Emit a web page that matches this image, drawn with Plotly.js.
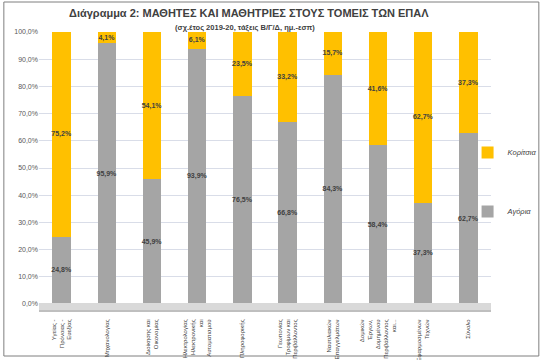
<!DOCTYPE html>
<html>
<head>
<meta charset="utf-8">
<script src="https://cdn.plot.ly/plotly-3.0.1.min.js"></script>
<style>
html,body{margin:0;padding:0;background:#fff;overflow:hidden;}
#chart{width:554px;height:360px;}
</style>
</head>
<body>
<div id="chart"></div>
<script>
const categories = [
  "Υγείας -<br>Πρόνοιας -<br>Ευεξίας",
  "Μηχανολογίας",
  "Διοίκησης και<br>Οικονομίας",
  "Ηλεκτρολογίας<br>Ηλεκτρονικής<br>και<br>Αυτοματισμού",
  "Πληροφορικής",
  "Γεωπονίας<br>Τροφίμων και<br>Περιβάλλοντος",
  "Ναυτιλιακών<br>Επαγγελμάτων",
  "Δομικών<br>Έργων,<br>Δομημένου<br>Περιβάλλοντος<br>και...",
  "Εφαρμοσμένων<br>Τεχνών",
  "Σύνολο"
];
const boys  = [24.8, 95.9, 45.9, 93.9, 76.5, 66.8, 84.3, 58.4, 37.3, 62.7];
const girls = [75.2, 4.1, 54.1, 6.1, 23.5, 33.2, 15.7, 41.6, 62.7, 37.3];
const yTicks = [0,10,20,30,40,50,60,70,80,90,100];
const yTickText = yTicks.map(v => v.toFixed(1).replace(".", ",") + "%");

const FONT = "Liberation Sans, Arial, sans-serif";

const traces = [
  {
    type: "bar", name: "Αγόρια", x: categories, y: boys,
    marker: {color: "#A5A5A5"},
    texttemplate: "%{y:.1f}%", textposition: "inside", insidetextanchor: "middle",
    constraintext: "none", textangle: 0,
    textfont: {family: FONT, size: 7, color: "#404040", weight: "bold"},
    legendgroup: "b", legendrank: 2, hoverinfo: "skip"
  },
  {
    type: "bar", name: "Κορίτσια", x: categories, y: girls,
    marker: {color: "#FFC000"},
    texttemplate: "%{y:.1f}%", textposition: "inside", insidetextanchor: "middle",
    constraintext: "none", textangle: 0,
    textfont: {family: FONT, size: 7, color: "#404040", weight: "bold"},
    legendgroup: "g", legendrank: 1, hoverinfo: "skip"
  }
];

const L = 39, R = 52, T = 32, B = 56;
const pw = 554 - L - R, ph = 360 - T - B;
function px2x(p){ return (p - L) / pw; }
function py2y(p){ return (360 - B - p) / ph; }

const layout = {
  width: 554, height: 360,
  margin: {l: L, r: R, t: T, b: B, pad: 0},
  barmode: "stack",
  bargap: 0.59,
  separators: ",.",
  paper_bgcolor: "#ffffff",
  plot_bgcolor: "#ffffff",
  font: {family: FONT, color: "#595959"},
  annotations: [
    {text: "<b>Διάγραμμα 2: ΜΑΘΗΤΕΣ ΚΑΙ ΜΑΘΗΤΡΙΕΣ ΣΤΟΥΣ ΤΟΜΕΙΣ ΤΩΝ ΕΠΑΛ</b>",
     xref: "paper", yref: "paper", x: px2x(254), y: py2y(13),
     xanchor: "center", yanchor: "middle", showarrow: false,
     font: {family: FONT, size: 11, color: "#404040"}},
    {text: "<b>(σχ.έτος 2019-20, τάξεις Β/Γ/Δ, ημ.-εσπ)</b>",
     xref: "paper", yref: "paper", x: px2x(250), y: py2y(27),
     xanchor: "center", yanchor: "middle", showarrow: false,
     font: {family: FONT, size: 7.5, color: "#404040"}}
  ],
  xaxis: {
    type: "category",
    tickangle: -90,
    ticks: "outside", ticklen: 12, tickcolor: "rgba(0,0,0,0)",
    tickfont: {family: FONT, size: 6, color: "#404040"},
    showline: false, showgrid: false, fixedrange: true
  },
  yaxis: {
    range: [0, 100],
    tickvals: yTicks,
    ticktext: yTickText,
    tickfont: {family: FONT, size: 7, color: "#595959"},
    gridcolor: "#D9DDE8", gridwidth: 1,
    zeroline: false, showline: false, ticks: "", fixedrange: true
  },
  legend: {
    x: px2x(478), xanchor: "left",
    y: py2y(138), yanchor: "top",
    traceorder: "grouped",
    tracegroupgap: 40,
    font: {family: FONT, size: 7.5, color: "#404040", style: "italic"},
    bgcolor: "rgba(0,0,0,0)"
  },
  shapes: [
    {type: "rect", xref: "paper", yref: "paper",
     x0: 0, x1: 1, y0: py2y(311), y1: py2y(303),
     fillcolor: "#D9D9D9", line: {width: 0}, layer: "above"},
    {type: "rect", xref: "paper", yref: "paper",
     x0: 0, x1: 1, y0: py2y(312), y1: py2y(310),
     fillcolor: "#BFBFBF", line: {width: 0}, layer: "above"},
    {type: "rect", xref: "paper", yref: "paper",
     x0: px2x(3), x1: px2x(551), y0: py2y(356), y1: py2y(2),
     line: {color: "#7F7F7F", width: 1}, fillcolor: "rgba(0,0,0,0)", layer: "below"}
  ],
  showlegend: true
};

Plotly.newPlot("chart", traces, layout, {displayModeBar: false, staticPlot: true});
</script>
</body>
</html>
